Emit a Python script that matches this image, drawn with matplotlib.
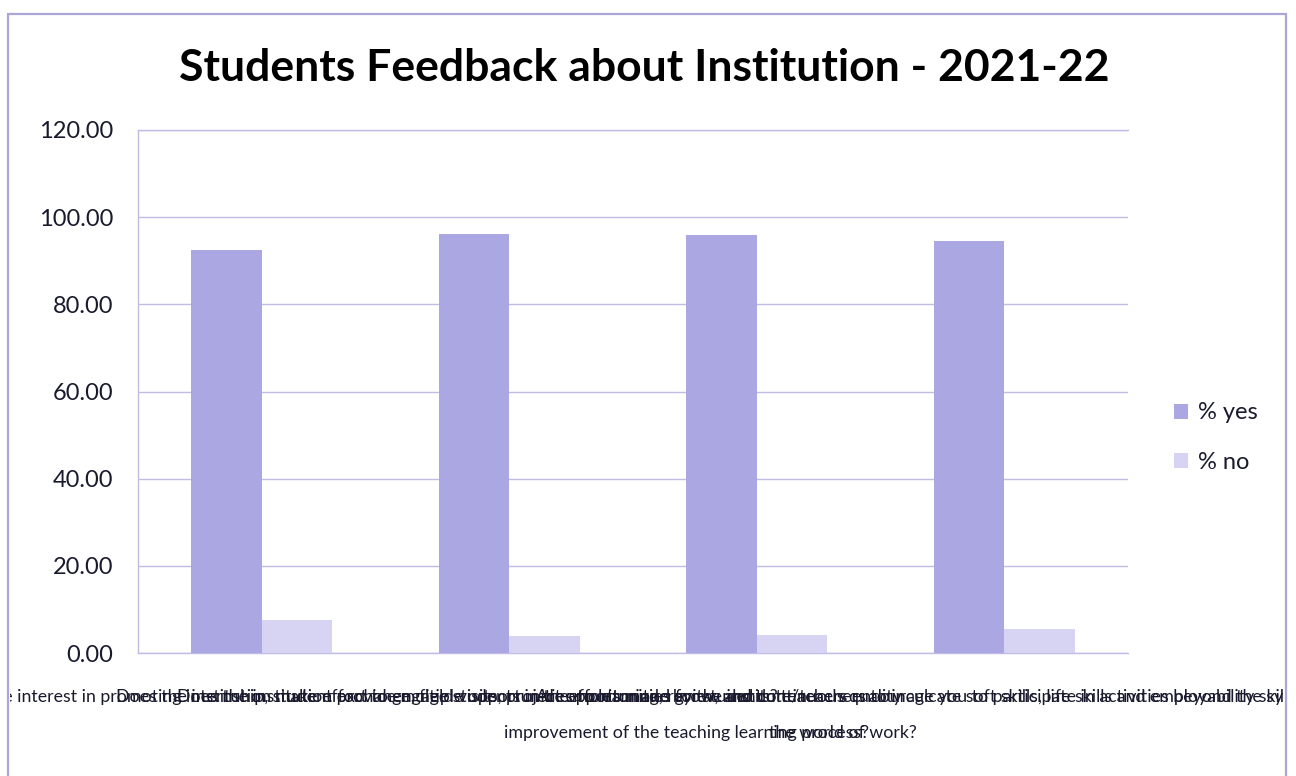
import matplotlib
matplotlib.use("Agg")
import matplotlib.pyplot as plt
from matplotlib.patches import Rectangle
from matplotlib.transforms import Bbox, blended_transform_factory
import numpy as np

# ---- data ----
categories_line1 = [
    "Does the institution take an active interest in promoting internship, student exchange, field visits, project opportunities for students?",
    "Does the institution make effort to engage students in the monitoring, review and continuous quality",
    "Does the institution provide multiple opportunities to learn and grow, and do teachers encourage you to participate in activities beyond the syllabus?",
    "Are efforts made by the institute/teachers to inculcate soft skills, life skills and employability skills to make you ready for",
]
categories_line2 = [
    "",
    "improvement of the teaching learning process?",
    "",
    "the world of work?",
]
series_names = ["% yes", "% no"]
pct_yes = [92.4, 96.2, 95.9, 94.5]
pct_no = [7.6, 3.8, 4.1, 5.5]
y_ticks = [0, 20, 40, 60, 80, 100, 120]
title = "Students Feedback about Institution - 2021-22"

# ---- style ----
FONT = "Lato"
plt.rcParams["font.family"] = [FONT, "DejaVu Sans"]
col_yes = "#aba7e2"
col_no = "#d7d4f3"
grid_col = "#c0bce4"
text_col = "#1a1a2e"

W, H = 1296, 776
fig = plt.figure(figsize=(W / 100, H / 100), dpi=100)
fig.patch.set_facecolor("white")

ax = fig.add_axes([138 / W, 1 - 653 / H, (1128 - 138) / W, (653 - 130) / H])

n = len(pct_yes)
x = np.arange(n)
bw = 1 / 3.5
ax.bar(x - bw / 2, pct_yes, width=bw, color=col_yes, label=series_names[0], zorder=3)
ax.bar(x + bw / 2, pct_no, width=bw, color=col_no, label=series_names[1], zorder=3)

ax.set_xlim(-0.5, n - 0.5)
ax.set_ylim(0, 120)
ax.set_yticks(y_ticks)
ax.set_yticklabels([f"{v:.2f}" for v in y_ticks], fontsize=17, color=text_col)
ax.tick_params(axis="y", length=0, pad=18)
ax.tick_params(axis="x", length=0, labelbottom=False)
ax.yaxis.grid(True, color=grid_col, lw=1.0, zorder=0)
for name, s in ax.spines.items():
    s.set_color(grid_col)
    s.set_linestyle((0, (1, 1)))
    s.set_linewidth(1.0)
ax.spines["right"].set_visible(False)

# chart frame
frame = Rectangle((8 / W, 0 - 0.01), (1286 - 8) / W, 1 - 14 / H + 0.01,
                  transform=fig.transFigure, fill=False, edgecolor="#aaa7d6", lw=1.6)
fig.patches.append(frame)

fig.text(644 / W, 1 - 68 / H, title, ha="center", va="center",
         fontsize=32, fontweight="bold", color="black")

# category labels (overlapping, as in the original)
clip = Bbox.from_extents(10, 0, 1284, H)
tr = blended_transform_factory(ax.transData, fig.transFigure)
LBL = 12.8
for i in range(n):
    t = ax.text(x[i], 1 - 697 / H, categories_line1[i], transform=tr, ha="center",
                va="center", fontsize=LBL, color=text_col, clip_on=True)
    t.set_clip_box(clip)
ax.text(0.98, 1 - 733 / H, categories_line2[1], transform=tr, ha="left",
        va="center", fontsize=LBL, color=text_col, clip_on=False)
ax.text(2.05, 1 - 733 / H, categories_line2[3], transform=tr, ha="left",
        va="center", fontsize=LBL, color=text_col, clip_on=False)

leg = ax.legend(loc="center left", bbox_to_anchor=(1.025, 0.412), frameon=False,
                fontsize=17, handlelength=0.6, handleheight=0.6,
                labelspacing=1.2, handletextpad=0.4)
for t in leg.get_texts():
    t.set_color(text_col)

fig.savefig("out.png", dpi=100)
